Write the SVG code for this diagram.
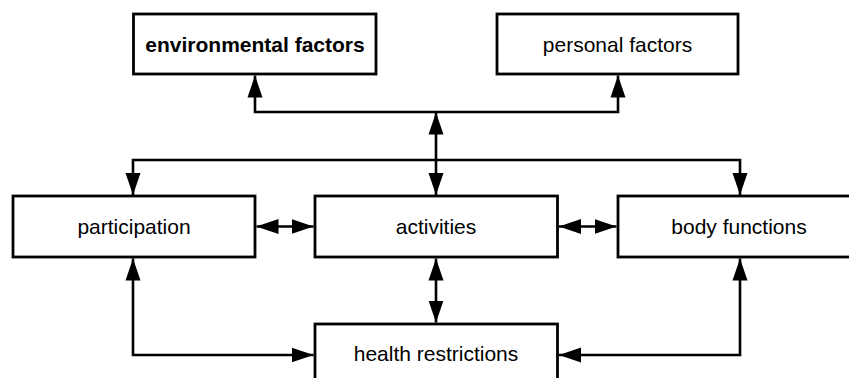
<svg xmlns="http://www.w3.org/2000/svg" width="849" height="378" viewBox="0 0 849 378">
<style>
.box{fill:#fff;stroke:#000;stroke-width:2.8}
.lbl{font-family:"Liberation Sans",Arial,sans-serif;font-size:21px;fill:#000;text-anchor:middle}
.b{font-weight:bold}
.c{fill:none;stroke:#000;stroke-width:2.6;marker-start:url(#ah);marker-end:url(#ah)}
</style>
<defs>
<marker id="ah" markerUnits="userSpaceOnUse" markerWidth="22" markerHeight="16" refX="22" refY="7.5" orient="auto-start-reverse" viewBox="0 0 22 15">
<path d="M0,0 L22,7.5 L0,15 z" fill="#000"/>
</marker>
</defs>
<rect width="849" height="378" fill="#fff"/>
<g id="connectors">
<path class="c" d="M255,75.5 V112 H618 V75.5"/>
<path class="c" d="M436,112.5 V195"/>
<path class="c" d="M133,195 V160 H740 V195"/>
<path class="c" d="M256.5,226.5 H313.5"/>
<path class="c" d="M559,226.5 H616.5"/>
<path class="c" d="M436,258.5 V322.5"/>
<path class="c" d="M133,258.5 V355 H313.5"/>
<path class="c" d="M740,258.5 V355 H559"/>
</g>
<g id="environmental"><rect class="box" x="133.5" y="14" width="242.5" height="60"/><text class="lbl b" x="255" y="51.5">environmental factors</text></g>
<g id="personal"><rect class="box" x="497" y="14" width="241" height="60"/><text class="lbl" x="617.5" y="51.5">personal factors</text></g>
<g id="participation"><rect class="box" x="13" y="196" width="242" height="61"/><text class="lbl" x="134" y="234">participation</text></g>
<g id="activities"><rect class="box" x="315" y="196" width="242.5" height="61"/><text class="lbl" x="436" y="234">activities</text></g>
<g id="body"><rect class="box" x="618" y="196" width="243" height="61"/><text class="lbl" x="739" y="234">body functions</text></g>
<g id="health"><rect class="box" x="315" y="324" width="242.5" height="61"/><text class="lbl" x="436" y="361">health restrictions</text></g>
</svg>
